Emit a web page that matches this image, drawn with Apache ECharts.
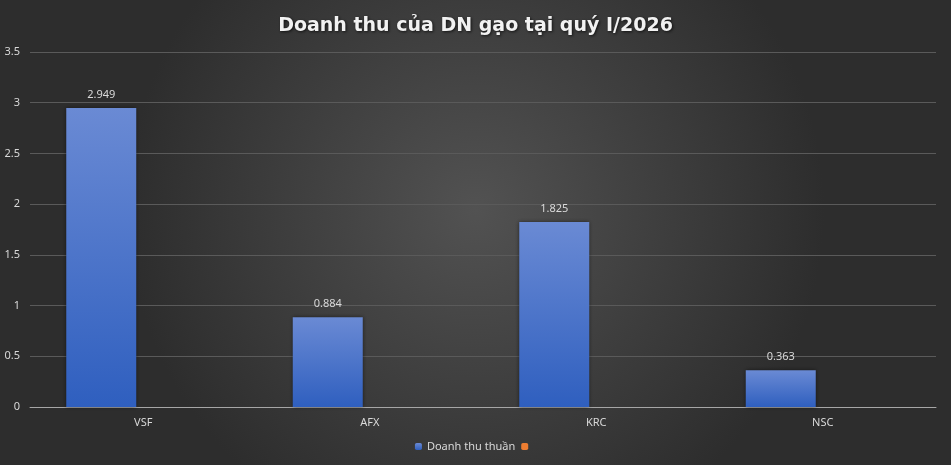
<!DOCTYPE html>
<html>
<head>
<meta charset="utf-8">
<script src="https://cdn.jsdelivr.net/npm/echarts@6/dist/echarts.min.js"></script>
<style>
html,body{margin:0;padding:0;background:#3a3a3a;}
#chart{width:951px;height:465px;}
</style>
</head>
<body>
<div id="chart"></div>
<script>
// du lieu
var categories=['VSF','AFX','KRC','NSC'];
var doanhThu=[2.949,0.884,1.825,0.363];
var series2=[null,null,null,null];
var seriesNames=['Doanh thu thuần',' '];

var myChart=echarts.init(document.getElementById('chart'));

var option={
    backgroundColor:{
        type:'radial',x:0.5,y:0.45,r:0.75,
        colorStops:[{offset:0,color:'#525252'},{offset:1,color:'#2d2d2d'}]
    },
    title:{
        text:'Doanh thu của DN gạo tại quý I/2026',
        left:'center',
        top:12,
        textStyle:{
            color:'#f2f2f2',
            fontSize:19,
            fontWeight:'bold',
            fontFamily:'DejaVu Sans',
            textShadowColor:'rgba(0,0,0,0.7)',
            textShadowBlur:3,
            textShadowOffsetX:1,
            textShadowOffsetY:1
        }
    },
    legend:{
        data:seriesNames,
        bottom:8,
        left:'center',
        itemWidth:7,
        itemHeight:7,
        itemGap:6,
        textStyle:{color:'#d9d9d9',fontSize:11,fontFamily:'Noto Sans'}
    },
    grid:{left:30,right:15,top:52,bottom:58},
    xAxis:{
        type:'category',
        data:categories,
        axisTick:{show:false},
        axisLine:{lineStyle:{color:'#a6a6a6',width:1}},
        axisLabel:{color:'#d9d9d9',fontSize:11,margin:10,fontFamily:'Noto Sans'}
    },
    yAxis:{
        type:'value',
        min:0,
        max:3.5,
        interval:0.5,
        axisLine:{show:false},
        axisTick:{show:false},
        axisLabel:{color:'#d9d9d9',fontSize:11,margin:10,fontFamily:'Noto Sans'},
        splitLine:{lineStyle:{color:'#5a5a5a',width:1}}
    },
    series:[{
        name:seriesNames[0],
        type:'bar',
        data:doanhThu,
        barWidth:70,
        barGap:'20%',
        itemStyle:{
            color:{
                type:'linear',x:0,y:0,x2:0,y2:1,
                colorStops:[{offset:0,color:'#6a8ad4'},{offset:1,color:'#2f5fbf'}]
            },
            shadowColor:'rgba(0,0,0,0.5)',
            shadowBlur:4
        },
        label:{
            show:true,
            position:'top',
            distance:8,
            color:'#d9d9d9',
            fontSize:11,
            fontFamily:'Noto Sans',
            formatter:function(p){return p.value.toFixed(3);}
        }
    },{
        name:seriesNames[1],
        type:'bar',
        data:series2,
        barWidth:70,
        itemStyle:{color:'#ed7d31'}
    }]
};

myChart.setOption(option);
</script>
</body>
</html>
